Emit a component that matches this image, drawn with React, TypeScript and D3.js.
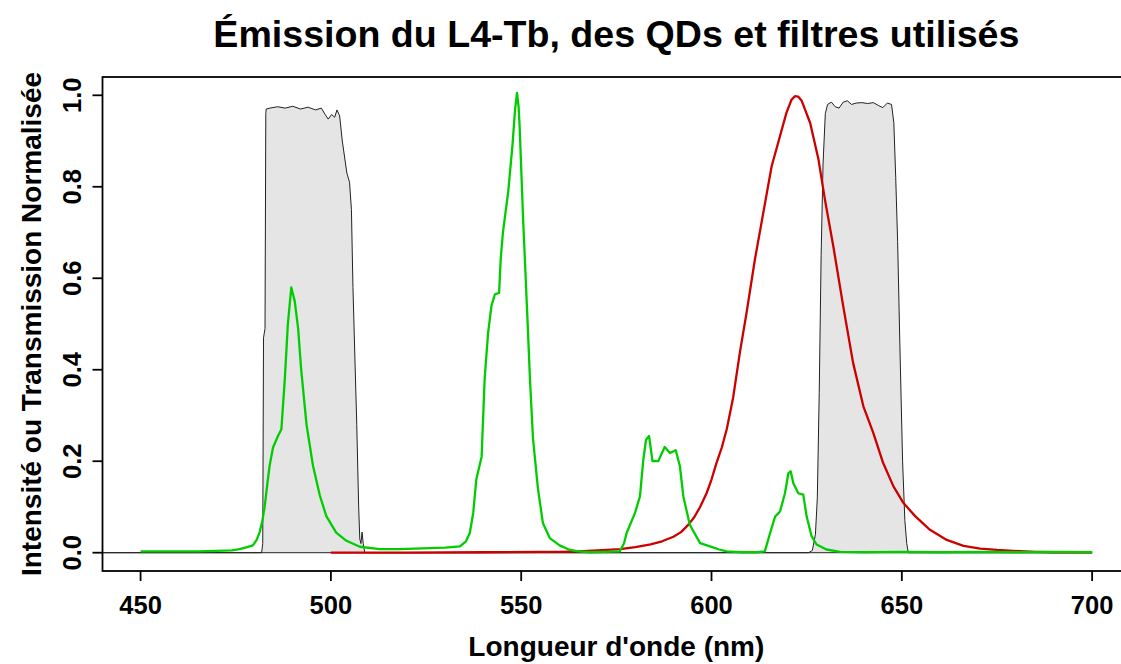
import React from "react";
import * as d3 from "d3";

// Filter transmission (both band-pass filters, one trace)
const filterNm = [
  440, 481.8, 482.1, 482.3, 482.7, 482.9, 483, 484, 486, 488, 490, 492, 494, 496, 497.5, 498.5,
  499.3, 500.2, 501.0, 501.6, 502.3, 503, 504.2, 504.9, 505.4, 505.8, 506.3, 506.8, 507.3, 507.6,
  507.9, 508.2, 508.5, 508.9,
  625.5, 626.5, 627.3, 627.8, 628.3, 628.8, 629.3, 629.9, 630.5, 631.5, 632.5, 633.5, 634.6,
  635.7, 636.8, 638, 639.5, 641, 642.5, 643.8, 645, 646.2, 647.3, 647.9, 648.4, 648.9, 649.5,
  650.2, 650.8, 651.3, 651.7, 700,
];
const filterT = [
  0, 0, 0.02, 0.47, 0.49, 0.96, 0.97, 0.972, 0.975, 0.972, 0.976, 0.97, 0.974, 0.968, 0.972, 0.958,
  0.948, 0.958, 0.952, 0.968, 0.955, 0.9, 0.83, 0.81, 0.75, 0.58, 0.43, 0.28, 0.1, 0.03,
  0.02, 0.045, 0.02, 0,
  0, 0.005, 0.04, 0.12, 0.35, 0.65, 0.85, 0.96, 0.98, 0.985, 0.975, 0.972, 0.985,
  0.988, 0.98, 0.983, 0.984, 0.982, 0.984, 0.978, 0.973, 0.983, 0.98, 0.94, 0.82, 0.68, 0.45,
  0.2, 0.07, 0.02, 0, 0,
];

// L4-Tb emission
const tbNm = [
  450, 455, 460, 465, 470, 474, 476, 478, 479.5, 480.5, 481.3, 482, 482.6, 483.3, 483.9, 484.8,
  486.1, 487.0, 487.9, 488.7, 489.6, 490.5, 491.4, 492.2, 493.6, 495.3, 497.1, 498.8, 501.4,
  504.1, 507.6, 512.8, 518, 522, 526, 530, 533.9, 535.5, 536.5, 537.4, 538.2, 539.6, 540.4,
  541.3, 542.2, 543.1, 544.2, 544.6, 545.2, 546.6, 547.7, 548.4, 548.9, 549.3, 549.6, 550.5,
  551.6, 552.3, 553.1, 554.4, 555.7, 557.5, 560.1, 562.8, 565, 568, 572, 575.9, 577, 577.7,
  579.9, 581.2, 582.1, 582.8, 583.6, 584.5, 586, 587.7, 589.1, 590.6, 591.7, 592.6, 594.3,
  597, 599.6, 602, 604, 608, 612, 614, 615.4, 616.7, 618, 619.3, 620.2, 620.8, 621.5, 622.8,
  624.1, 625, 626.3, 627.6, 630.2, 633.8, 640, 650, 660, 670, 680, 690, 700,
];
const tbI = [
  0.003, 0.003, 0.003, 0.003, 0.004, 0.005, 0.008, 0.012, 0.016, 0.028, 0.045, 0.07, 0.1, 0.15,
  0.19, 0.23, 0.255, 0.27, 0.38, 0.5, 0.58, 0.55, 0.49, 0.4, 0.28, 0.19, 0.125, 0.08, 0.044,
  0.026, 0.013, 0.008, 0.008, 0.009, 0.01, 0.011, 0.014, 0.025, 0.043, 0.087, 0.16, 0.21, 0.38,
  0.48, 0.54, 0.565, 0.568, 0.64, 0.7, 0.79, 0.89, 0.97, 1.005, 0.977, 0.93, 0.73,
  0.52, 0.38, 0.25, 0.14, 0.065, 0.032, 0.016, 0.006, 0.003, 0.001, 0.002, 0.003, 0.02, 0.043,
  0.087, 0.123, 0.204, 0.247, 0.255, 0.2, 0.2, 0.231, 0.218, 0.224, 0.189, 0.123, 0.061,
  0.021, 0.014, 0.007, 0.003, 0.001, 0.001, 0.003, 0.043, 0.079, 0.09, 0.13, 0.174, 0.178, 0.152,
  0.13, 0.127, 0.079, 0.036, 0.018, 0.007, 0.002, 0.001, 0.002, 0.001, 0.002, 0.001, 0.002, 0.001,
];

// Quantum dot emission
const qdNm = [
  500, 520, 540, 555, 560, 565, 570, 576, 580, 584, 587, 590, 592, 594, 595.5, 597, 598.7, 600,
  601.3, 602.7, 604, 605.7, 607.5, 609.2, 611.4, 613.6, 615.8, 618, 619.7, 621, 621.9, 622.8,
  623.7, 625.9, 628.1, 629.8, 632, 634.6, 637.2, 639.9, 642.5, 645.1, 647.8, 650.4, 653.5,
  657.4, 661.8, 666.2, 670.6, 675, 679.3, 685, 690, 700,
];
const qdI = [
  0, 0, 0.001, 0.002, 0.002, 0.003, 0.005, 0.008, 0.012, 0.018, 0.025, 0.035, 0.045, 0.062, 0.078,
  0.1, 0.13, 0.16, 0.196, 0.23, 0.27, 0.34, 0.44, 0.524, 0.641, 0.743, 0.845, 0.911, 0.962, 0.99,
  0.998, 0.997, 0.988, 0.94, 0.86, 0.772, 0.67, 0.539, 0.415, 0.32, 0.262, 0.196, 0.145, 0.109,
  0.08, 0.05, 0.028, 0.015, 0.009, 0.006, 0.004, 0.002, 0.001, 0.001,
];

const xTicks = [450, 500, 550, 600, 650, 700];
const yTicks = [0, 0.2, 0.4, 0.6, 0.8, 1.0];

const W = 1121;
const H = 664;
const FONT = "'Liberation Sans', Arial, Helvetica, sans-serif";

export default function App() {
  const x = d3.scaleLinear().domain([440, 710]).range([102.5, 1130.2]);
  const y = d3.scaleLinear().domain([-0.04, 1.04]).range([571, 77]);

  const zip = (a: number[], b: number[]) => a.map((v, i) => [v, b[i]] as [number, number]);
  const line = d3
    .line<[number, number]>()
    .x((d) => x(d[0]))
    .y((d) => y(d[1]));

  const filterPath = line(zip(filterNm, filterT)) + "Z";
  const tbPath = line(zip(tbNm, tbI)) || "";
  const qdPath = line(zip(qdNm, qdI)) || "";

  const [x0, x1] = x.range();
  const [yb, yt] = y.range();

  return (
    <svg
      width={W}
      height={H}
      style={{ position: "absolute", left: 0, top: 0, background: "#fff" }}
      fontFamily={FONT}
      fontWeight="bold"
    >
      <rect x={0} y={0} width={W} height={H} fill="#fff" />
      <path d={filterPath} fill="#E5E5E5" stroke="#222" strokeWidth={1} />
      <path d={qdPath} fill="none" stroke="#CD0000" strokeWidth={2.3} strokeLinejoin="round" />
      <path d={tbPath} fill="none" stroke="#00CD00" strokeWidth={2.3} strokeLinejoin="round" />

      <rect x={x0} y={yt} width={x1 - x0} height={yb - yt} fill="none" stroke="#000" strokeWidth={1.8} />

      {xTicks.map((t) => (
        <g key={"x" + t}>
          <line x1={x(t)} x2={x(t)} y1={yb} y2={yb + 10} stroke="#000" strokeWidth={1.8} />
          <text x={x(t)} y={614} textAnchor="middle" fontSize={25.5}>
            {t}
          </text>
        </g>
      ))}
      {yTicks.map((t) => (
        <g key={"y" + t}>
          <line x1={x0} x2={x0 - 10} y1={y(t)} y2={y(t)} stroke="#000" strokeWidth={1.8} />
          <text
            transform={`translate(81,${y(t)}) rotate(-90)`}
            textAnchor="middle"
            fontSize={25.5}
          >
            {t.toFixed(1)}
          </text>
        </g>
      ))}

      <text x={(x0 + x1) / 2} y={47} textAnchor="middle" fontSize={37.6}>
        Émission du L4-Tb, des QDs et filtres utilisés
      </text>
      <text x={(x0 + x1) / 2} y={656} textAnchor="middle" fontSize={28}>
        Longueur d'onde (nm)
      </text>
      <text
        transform={`translate(41,${(yb + yt) / 2}) rotate(-90)`}
        textAnchor="middle"
        fontSize={28}
      >
        Intensité ou Transmission Normalisée
      </text>
    </svg>
  );
}
